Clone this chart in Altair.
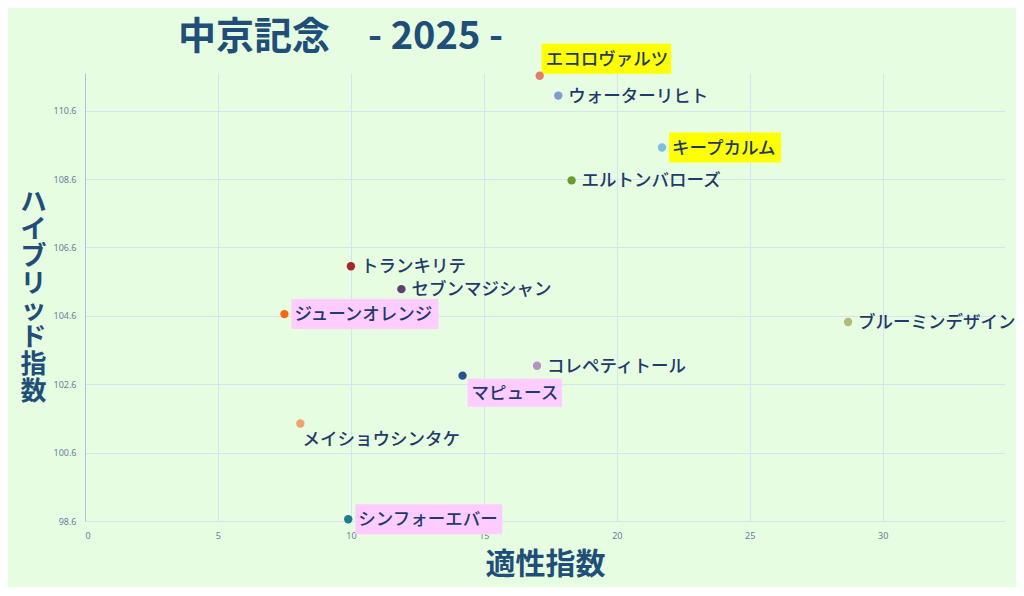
import altair as alt
import pandas as pd

# ---- data ----
names = ["エコロヴァルツ", "ウォーターリヒト", "キープカルム", "エルトンバローズ",
         "トランキリテ", "セブンマジシャン", "ジューンオレンジ", "ブルーミンデザイン",
         "コレペティトール", "マピュース", "メイショウシンタケ", "シンフォーエバー"]
tekisei = [17.1, 17.8, 21.7, 18.3, 10.0, 11.9, 7.5, 28.7, 17.0, 14.2, 8.1, 9.9]
hybrid = [111.62, 111.04, 109.52, 108.56, 106.05, 105.38, 104.65, 104.42, 103.14, 102.85, 101.45, 98.65]
colors = ["#e07b6f", "#7c9cd2", "#7fc0dc", "#6b9a2c", "#a3272b", "#5e3f6f",
          "#f26a10", "#b5b97a", "#b592c2", "#27548f", "#efa070", "#1f7b8e"]
y_ticks = [98.6, 100.6, 102.6, 104.6, 106.6, 108.6, 110.6]
x_ticks = [0, 5, 10, 15, 20, 25, 30]

# ---- styling (placement and highlight of each label) ----
placement = {"エコロヴァルツ": "above", "マピュース": "below", "メイショウシンタケ": "below2"}
highlight = {"エコロヴァルツ": "#ffff00", "キープカルム": "#ffff00",
             "ジューンオレンジ": "#ffccff", "マピュース": "#ffccff", "シンフォーエバー": "#ffccff"}

W, H = 920, 448
XMIN, XMAX = 0, 34.6
YMIN, YMAX = 98.6, 111.7
PXU = W / (XMAX - XMIN)
FS = 17.5
BG = "#e6fde2"
TXT = "#1f3a6b"
LINE_H = 27

df = pd.DataFrame({"name": names, "x": tekisei, "y": hybrid, "c": colors})
df["pos"] = [placement.get(n, "right") for n in names]
df["hl"] = [highlight.get(n, "") for n in names]
df["x_end"] = [x + (len(n) * FS + 14) / PXU for n, x in zip(names, tekisei)]

xs = alt.Scale(domain=[XMIN, XMAX], nice=False, zero=False)
ys = alt.Scale(domain=[YMIN, YMAX], nice=False, zero=False)

base = alt.Chart(df)

ytitle = list("ハイブリッド") + ["指", "数"]

xenc = alt.X("x:Q", scale=xs, axis=alt.Axis(
    values=x_ticks, title="適性指数", grid=True, gridColor="#d6e3f2", domain=False, ticks=False,
    labelFontSize=9, labelColor="#6a7d9b", labelPadding=10, labelFont="Noto Sans",
    titleFontSize=30, titleColor="#1f4e79", titleFont="Noto Sans CJK JP", titleFontWeight="bold",
    titlePadding=9))
yenc = alt.Y("y:Q", scale=ys, axis=alt.Axis(
    values=y_ticks, format=".1f", title=ytitle, grid=True,
    gridColor="#d6e3f2", domain=True, domainColor="#a9c2ef", ticks=False,
    labelFontSize=9, labelColor="#6a7d9b", labelPadding=9, labelFont="Noto Sans",
    titleFontSize=26, titleColor="#1f4e79", titleFont="Noto Sans CJK JP", titleFontWeight="bold",
    titleAngle=0, titleX=-52, titleY=H / 2 - (len(ytitle) - 1) * LINE_H / 2,
    titleAlign="center", titleBaseline="middle", titleLineHeight=LINE_H))

hl = base.transform_filter("datum.hl != ''")
rect_cfg = {
    "right": dict(xOffset=7, x2Offset=0, yOffset=-15, y2Offset=15),
    "above": dict(xOffset=2, x2Offset=-5, yOffset=-32, y2Offset=-2),
    "below": dict(xOffset=5, x2Offset=-2, yOffset=3, y2Offset=31),
}
rects = [
    hl.transform_filter(f"datum.pos == '{p}'").mark_rect(**cfg).encode(
        x=alt.X("x:Q", scale=xs), x2="x_end:Q",
        y=alt.Y("y:Q", scale=ys), y2="y:Q",
        color=alt.Color("hl:N", scale=None))
    for p, cfg in rect_cfg.items()
]

points = base.mark_circle(size=70, opacity=1).encode(
    x=xenc, y=yenc, color=alt.Color("c:N", scale=None))

text_cfg = {
    "right": dict(dx=10, dy=1),
    "above": dict(dx=6, dy=-16),
    "below": dict(dx=9, dy=18),
    "below2": dict(dx=2, dy=16),
}
texts = [
    base.transform_filter(f"datum.pos == '{p}'").mark_text(
        align="left", baseline="middle", fontSize=FS, font="Noto Sans CJK JP", fontWeight=500,
        color=TXT, **cfg).encode(x=alt.X("x:Q", scale=xs), y=alt.Y("y:Q", scale=ys), text="name:N")
    for p, cfg in text_cfg.items()
]

chart = alt.layer(*rects, points, *texts).properties(
    width=W, height=H,
    title=alt.Title("中京記念　- 2025 -", anchor="start", frame="group", dx=93, dy=33, offset=20,
                    fontSize=38, font="Noto Sans CJK JP", fontWeight="bold", color="#1f4e79"),
    autosize=alt.AutoSizeParams(type="none"),
    padding={"left": 77, "top": 65, "right": 11, "bottom": 66},
    background=BG,
).configure_view(stroke=None, fill=BG)

chart.save("out.html", embed_options={"renderer": "svg", "actions": False})
